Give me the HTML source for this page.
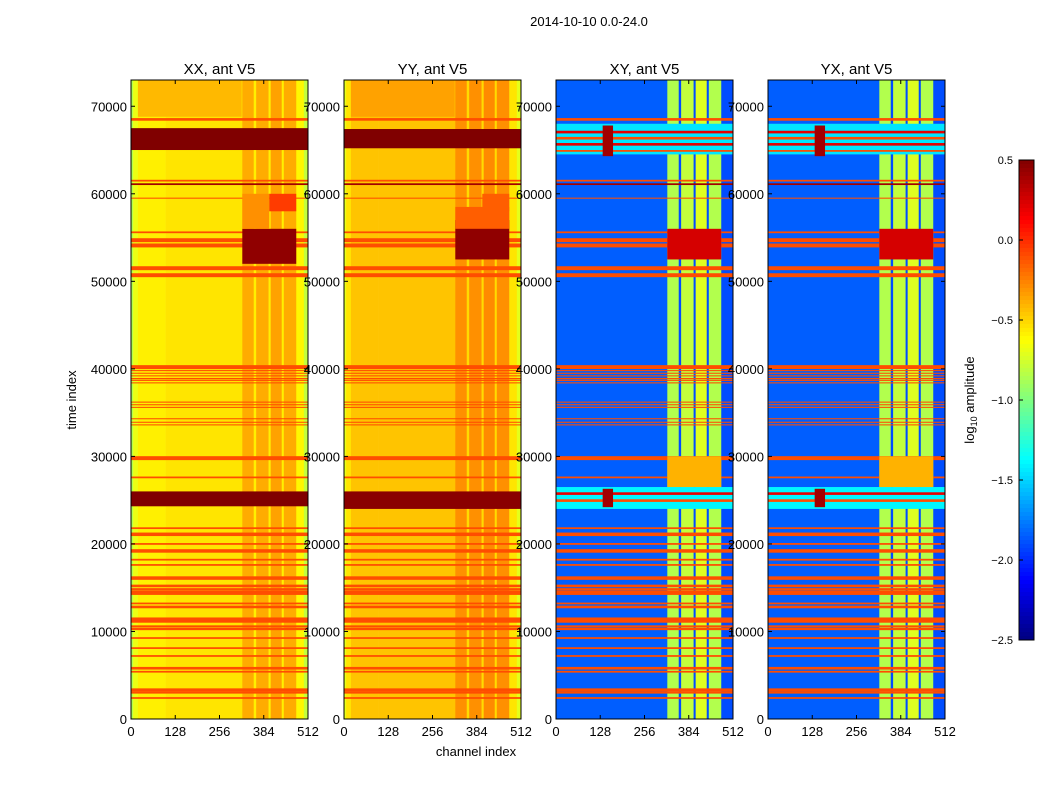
<!DOCTYPE html>
<html><head><meta charset="utf-8"><style>
body{margin:0;background:#fff;font-family:"Liberation Sans",sans-serif;}
svg text{font-family:"Liberation Sans",sans-serif;fill:#000;}
</style></head><body>
<svg id="chart" width="1050" height="800" xmlns="http://www.w3.org/2000/svg">
<text x="589" y="26" font-size="13" text-anchor="middle">2014-10-10 0.0-24.0</text>
<text x="476" y="756" font-size="13" text-anchor="middle">channel index</text>
<text x="76" y="400" font-size="13" text-anchor="middle" transform="rotate(-90 76 400)">time index</text>
<g id="panels"></g>
<g id="cbar"></g>
<text x="974" y="400" font-size="13" text-anchor="middle" transform="rotate(-90 974 400)">log<tspan font-size="9" dy="3">10</tspan><tspan dy="-3"> amplitude</tspan></text>
</svg>
<script>
// ---- data ----
const panelTitles = ["XX, ant V5","YY, ant V5","XY, ant V5","YX, ant V5"];
const xTicks = [0,128,256,384,512];
const yTicks = [0,10000,20000,30000,40000,50000,60000,70000];
const cbarTicks = [0.5,0.0,-0.5,-1.0,-1.5,-2.0,-2.5];
// column segments: start channel, end channel, log amplitude
const segStartXX = [0,6,20,100,322,355,362,398,404,436,442,478,500];
const segEndXX   = [6,20,100,322,355,362,398,404,436,442,478,500,512];
const segValXX   = [-0.85,-0.68,-0.58,-0.55,-0.38,-0.58,-0.38,-0.58,-0.35,-0.58,-0.38,-0.6,-0.8];
const segValYY   = [-0.7,-0.55,-0.45,-0.45,-0.3,-0.52,-0.3,-0.52,-0.28,-0.52,-0.3,-0.55,-0.7];
const segStartXY = [0,322,355,362,398,404,436,442,478];
const segEndXY   = [322,355,362,398,404,436,442,478,512];
const segValXY   = [-1.85,-0.85,-1.9,-0.8,-1.9,-0.72,-1.9,-0.85,-1.9];
const segValYX   = [-1.85,-0.85,-1.9,-0.8,-1.9,-0.72,-1.9,-0.85,-1.9];
// RFI rows (all panels): time, thickness, value
const rowTimes = [68500,61500,61100,59500,55600,54700,54100,51500,50700,40200,39800,39500,39200,38900,38700,38400,36200,35900,35600,34300,33900,33600,29800,27600,21800,21100,20000,19200,18200,17600,16100,15200,14800,14400,13200,12800,11300,10600,10300,9250,8100,7200,5800,5400,3300,3000,2400];
const rowThick = [300,200,200,120,200,450,450,450,450,450,120,120,120,120,150,120,120,120,120,120,120,120,450,200,200,400,200,400,200,200,400,300,300,450,200,300,600,200,300,200,200,200,300,200,400,200,200];
const rowVals  = [-0.1,-0.1,0.4,-0.1,-0.1,-0.1,-0.1,-0.1,-0.1,-0.1,-0.1,-0.1,-0.1,-0.1,-0.1,-0.1,-0.1,-0.1,-0.1,-0.1,-0.1,-0.1,-0.1,-0.1,-0.1,-0.1,-0.1,-0.1,-0.1,-0.1,-0.1,-0.1,-0.1,-0.1,-0.1,-0.1,-0.1,-0.1,-0.1,-0.1,-0.1,-0.1,-0.1,-0.1,-0.1,-0.1,-0.1];
// patches per panel: tStart, tEnd, cStart, cEnd, value
const patchT0 = [
 [68800,65000,24300,52000,56000,58000],
 [68800,65200,24000,52500,56000,58000],
 [64500,66900,66200,65500,64800,64300,24000,25600,24800,24200,52500,26500],
 [64500,66900,66200,65500,64800,64300,24000,25600,24800,24200,52500,26500]];
const patchT1 = [
 [73000,67500,26000,56000,60000,60000],
 [73000,67400,26000,57000,58500,60000],
 [68000,67200,66500,65800,65000,67800,26500,25900,25100,26300,56000,30000],
 [68000,67200,66500,65800,65000,67800,26500,25900,25100,26300,56000,30000]];
const patchC0 = [
 [20,0,0,322,322,400],
 [20,0,0,322,322,400],
 [0,0,0,0,0,135,0,0,0,135,322,322],
 [0,0,0,0,0,135,0,0,0,135,322,322]];
const patchC1 = [
 [320,512,512,478,400,478],
 [320,512,512,478,478,478],
 [512,512,512,512,512,165,512,512,512,165,478,478],
 [512,512,512,512,512,165,512,512,512,165,478,478]];
const patchV  = [
 [-0.42,0.5,0.5,0.45,-0.3,-0.05],
 [-0.35,0.5,0.47,0.45,-0.15,-0.15],
 [-1.45,0.2,-0.1,0.2,-0.1,0.4,-1.4,0.2,-0.1,0.4,0.25,-0.4],
 [-1.45,0.2,-0.1,0.2,-0.1,0.4,-1.4,0.2,-0.1,0.4,0.25,-0.4]];

// ---- layout ----
const panelX = [131,344,556,768], panelW = 177, plotTop = 80, plotBottom = 719, tMax = 73000;
const vmin=-2.5, vmax=0.5;
function xs(p,c){return panelX[p]+c/512*panelW;}
function ys(t){return plotBottom-(t/tMax)*(plotBottom-plotTop);}
function jet(v){let t=(v-vmin)/(vmax-vmin);t=Math.max(0,Math.min(1,t));
 const cl=x=>Math.round(255*Math.max(0,Math.min(1,x)));
 return `rgb(${cl(1.5-Math.abs(4*t-3))},${cl(1.5-Math.abs(4*t-2))},${cl(1.5-Math.abs(4*t-1))})`;}
const NS="http://www.w3.org/2000/svg";
function mk(tag,attrs,parent){const e=document.createElementNS(NS,tag);for(const k in attrs)e.setAttribute(k,attrs[k]);parent.appendChild(e);return e;}
const G=document.getElementById('panels');
const segStarts=[segStartXX,segStartXX,segStartXY,segStartXY], segEnds=[segEndXX,segEndXX,segEndXY,segEndXY], segVals=[segValXX,segValYY,segValXY,segValYX];
for(let p=0;p<4;p++){
 const g=mk('g',{},G);
 
 
 for(let i=0;i<segStarts[p].length;i++){
  const r=mk('rect',{x:xs(p,segStarts[p][i]),y:plotTop,width:xs(p,segEnds[p][i])-xs(p,segStarts[p][i])+0.3,height:plotBottom-plotTop,fill:jet(segVals[p][i])},g);
  
  
 }
 for(let i=0;i<rowTimes.length;i++){
  const y0=ys(rowTimes[i]+rowThick[i]/2), y1=ys(rowTimes[i]-rowThick[i]/2);
  const r=mk('rect',{x:panelX[p],y:y0,width:panelW,height:Math.max(1,y1-y0),fill:jet(rowVals[i])},g);
  
  
 }
 for(let i=0;i<patchT0[p].length;i++){
  const r=mk('rect',{x:xs(p,patchC0[p][i]),y:ys(patchT1[p][i]),width:xs(p,patchC1[p][i])-xs(p,patchC0[p][i]),height:Math.max(1,ys(patchT0[p][i])-ys(patchT1[p][i])),fill:jet(patchV[p][i])},g);
  
  
 }
 const f=mk('rect',{x:panelX[p],y:plotTop,width:panelW,height:plotBottom-plotTop,fill:'none',stroke:'#000','stroke-width':1},g);
 
 
 const tt=mk('text',{x:panelX[p]+panelW/2,y:74,'font-size':15,'text-anchor':'middle'},g);
 tt.textContent=panelTitles[p];
 
 
 xTicks.forEach(c=>{
  const x=xs(p,c);
  mk('line',{x1:x,x2:x,y1:plotBottom,y2:plotBottom-4,stroke:'#000'},g);
  mk('line',{x1:x,x2:x,y1:plotTop,y2:plotTop+4,stroke:'#000'},g);
  const t=mk('text',{x:x,y:plotBottom+17,'font-size':13,'text-anchor':'middle'},g);
  t.textContent=c;
  
  
 });
 yTicks.forEach(v=>{
  const y=ys(v);
  mk('line',{x1:panelX[p],x2:panelX[p]+4,y1:y,y2:y,stroke:'#000'},g);
  mk('line',{x1:panelX[p]+panelW,x2:panelX[p]+panelW-4,y1:y,y2:y,stroke:'#000'},g);
 });
}
for(let p=0;p<4;p++){
 yTicks.forEach(v=>{
  const t=mk('text',{x:panelX[p]-4,y:ys(v)+5,'font-size':13,'text-anchor':'end'},G);
  t.textContent=v;
  
  
 });
}
const CB=document.getElementById('cbar');
const cbTop=160,cbBot=640,cbX=1019,cbW=15;
for(let i=0;i<120;i++){
 const v=vmax-(i+0.5)/120*(vmax-vmin);
 mk('rect',{x:cbX,y:cbTop+i*4,width:cbW,height:4.3,fill:jet(v)},CB);
}
mk('rect',{x:cbX,y:cbTop,width:cbW,height:cbBot-cbTop,fill:'none',stroke:'#000'},CB);
cbarTicks.forEach(v=>{
 const y=cbBot-(v-vmin)/(vmax-vmin)*(cbBot-cbTop);
 mk('line',{x1:cbX,x2:cbX+4,y1:y,y2:y,stroke:'#000'},CB);
 const t=mk('text',{x:1013,y:y+4,'font-size':11,'text-anchor':'end'},CB);
 t.textContent=(v<0?'\u2212':'')+Math.abs(v).toFixed(1);
 
 
});
</script>
</body></html>
